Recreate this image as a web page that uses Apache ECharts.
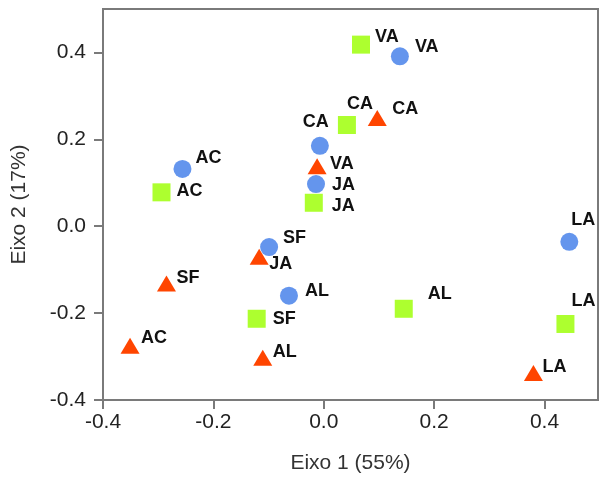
<!DOCTYPE html>
<html>
<head>
<meta charset="utf-8">
<script src="https://cdn.jsdelivr.net/npm/echarts@6/dist/echarts.min.js"></script>
<style>html,body{margin:0;padding:0;background:#fff;}#c{width:599px;height:479px;}</style>
</head>
<body>
<div id="c"></div>
<script>
// Data
var circleNames = ['VA','CA','JA','AC','SF','AL','LA'];
var circleX = [0.138, -0.007, -0.014, -0.256, -0.099, -0.063, 0.445];
var circleY = [0.391, 0.185, 0.097, 0.132, -0.048, -0.160, -0.036];

var squareNames = ['VA','CA','JA','AC','SF','AL','LA'];
var squareX = [0.0675, 0.042, -0.018, -0.294, -0.1215, 0.145, 0.438];
var squareY = [0.418, 0.233, 0.054, 0.078, -0.213, -0.190, -0.225];

var triangleNames = ['CA','VA','JA','SF','AC','AL','LA'];
var triangleX = [0.097, -0.012, -0.117, -0.285, -0.351, -0.1105, 0.380];
var triangleY = [0.249, 0.138, -0.070, -0.132, -0.275, -0.303, -0.338];

var xTicks = [-0.4, -0.2, 0.0, 0.2, 0.4];
var yTicks = [-0.4, -0.2, 0.0, 0.2, 0.4];

// Label placement (styling, in pixels: left edge dx, vertical centre dy)
var circleLabelOffsets = [[15,-9],[-17,-24],[16,1],[13,-11],[14,-9],[16,-5],[2,-22]];
var squareLabelOffsets = [[14,-8],[0,-21],[18,3],[15,-1],[16,0],[24,-15],[6,-23]];
var triangleLabelOffsets = [[15,-9],[13,-2],[10,7],[10,-6],[11,-8],[10,-6],[9,-6]];

function build(names, xs, ys, offs) {
  return names.map(function (n, i) {
    return {
      name: n,
      value: [xs[i], ys[i]],
      label: { offset: offs[i] }
    };
  });
}

var labelStyle = {
  show: true,
  formatter: '{b}',
  position: 'inside',
  align: 'left',
  verticalAlign: 'middle',
  color: '#111',
  fontFamily: 'Liberation Sans, Arial, sans-serif',
  fontWeight: 'bold',
  fontSize: 18
};

var fmt = function (v) {
  var r = Math.round(v * 10) / 10;
  if (xTicks.indexOf(r) < 0 || Math.abs(v - r) > 1e-6) return '';
  return r.toFixed(1);
};

var chart = echarts.init(document.getElementById('c'), null, {renderer: 'canvas'});
chart.setOption({
  animation: false,
  grid: {
    left: 103, top: 9, width: 495, height: 393,
    show: true, borderColor: '#7a7a7a', borderWidth: 2, backgroundColor: 'transparent'
  },
  xAxis: {
    type: 'value', min: -0.4, max: 0.497, interval: 0.2,
    name: 'Eixo 1 (55%)', nameLocation: 'middle', nameGap: 53,
    nameTextStyle: { color: '#333', fontSize: 21, fontFamily: 'Liberation Sans, Arial, sans-serif' },
    axisLine: { show: true, onZero: false, lineStyle: { color: '#7a7a7a', width: 2 } },
    axisTick: { show: true, length: 9, lineStyle: { color: '#7a7a7a', width: 2 } },
    axisLabel: { margin: 12, color: '#222', fontSize: 21, fontFamily: 'Liberation Sans, Arial, sans-serif', formatter: fmt, showMaxLabel: false },
    splitLine: { show: false }
  },
  yAxis: {
    type: 'value', min: -0.4, max: 0.5, interval: 0.2,
    name: 'Eixo 2 (17%)', nameLocation: 'middle', nameGap: 73,
    nameTextStyle: { color: '#333', fontSize: 21, fontFamily: 'Liberation Sans, Arial, sans-serif' },
    axisLine: { show: true, onZero: false, lineStyle: { color: '#7a7a7a', width: 2 } },
    axisTick: { show: true, length: 9, lineStyle: { color: '#7a7a7a', width: 2 } },
    axisLabel: { margin: 17, color: '#222', fontSize: 21, fontFamily: 'Liberation Sans, Arial, sans-serif', formatter: fmt, showMaxLabel: false },
    splitLine: { show: false }
  },
  series: [
    {
      type: 'scatter', symbol: 'circle', symbolSize: 18,
      itemStyle: { color: '#6495ED', opacity: 1 },
      label: labelStyle,
      data: build(circleNames, circleX, circleY, circleLabelOffsets)
    },
    {
      type: 'scatter', symbol: 'rect', symbolSize: 18,
      itemStyle: { color: '#ADFF2F', opacity: 1 },
      label: labelStyle,
      data: build(squareNames, squareX, squareY, squareLabelOffsets)
    },
    {
      type: 'scatter', symbol: 'triangle', symbolSize: [19, 16],
      itemStyle: { color: '#FF4500', opacity: 1 },
      label: labelStyle,
      data: build(triangleNames, triangleX, triangleY, triangleLabelOffsets)
    }
  ]
});
</script>
</body>
</html>
